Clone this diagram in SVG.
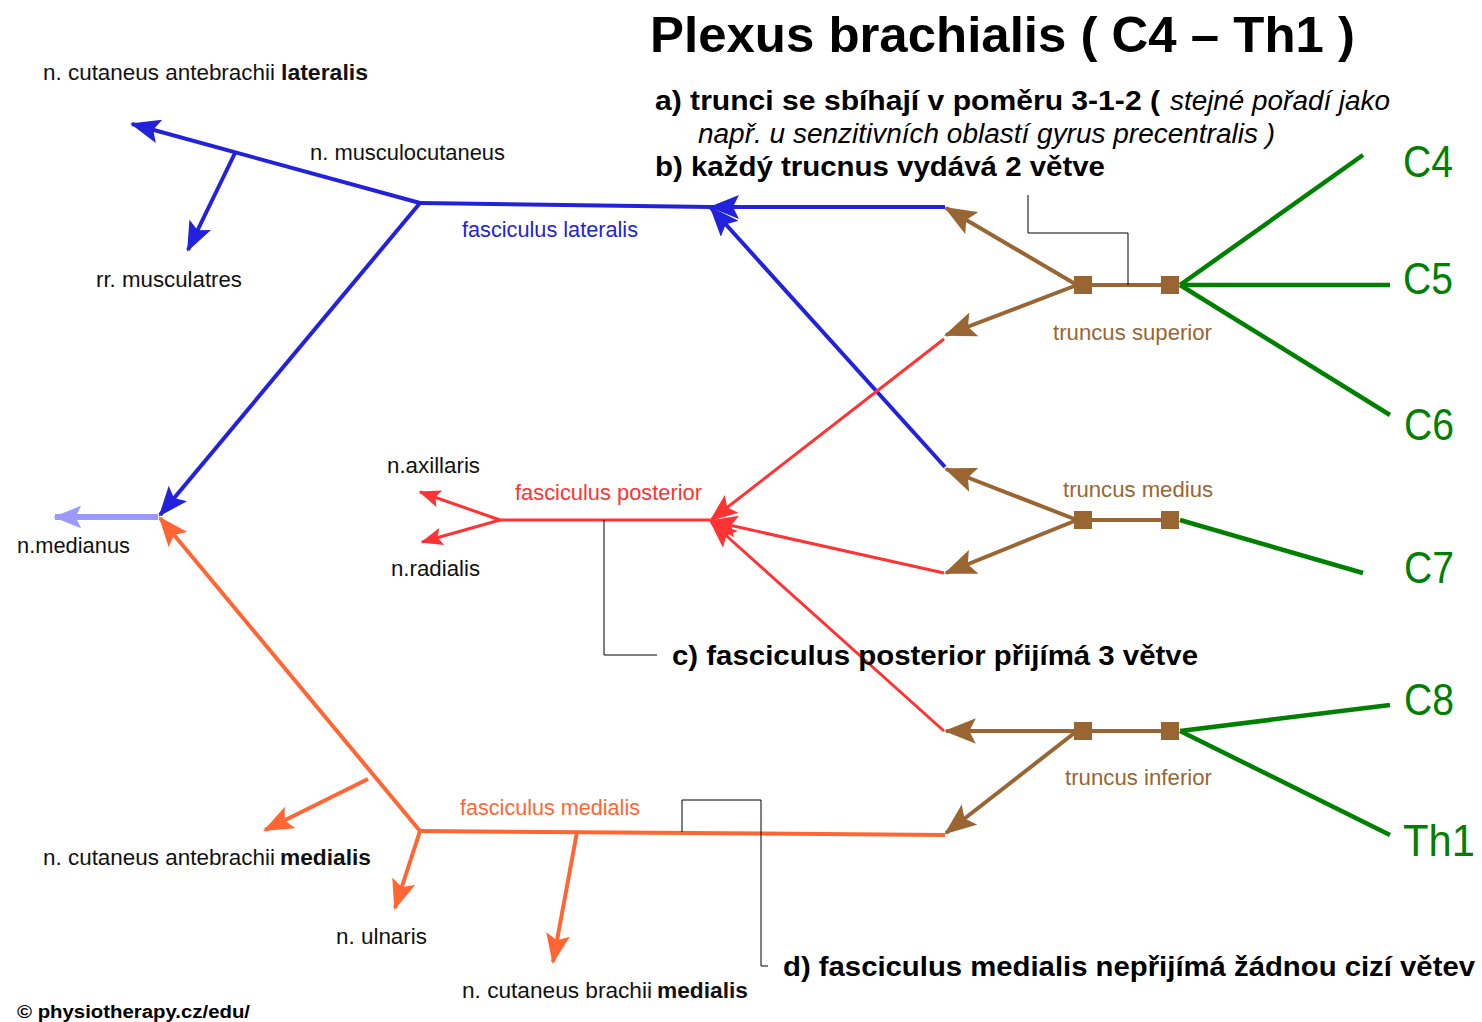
<svg xmlns="http://www.w3.org/2000/svg" width="1482" height="1022" viewBox="0 0 1482 1022">
<style>
text{font-family:"Liberation Sans",Arial,sans-serif;}
.lbl{font-size:22px;fill:#111;}
.b{font-weight:bold;}
.note{font-size:27px;font-weight:bold;fill:#000;}
.it{font-style:italic;font-weight:normal;}
.cn{font-size:44px;fill:#008000;}
.blue{stroke:#2222dd;fill:none;stroke-width:4;}
.red{stroke:#ff3333;fill:none;stroke-width:3;}
.orange{stroke:#ff6633;fill:none;stroke-width:4;}
.brown{stroke:#996633;fill:none;stroke-width:4;}
.green{stroke:#008000;fill:none;stroke-width:4.5;}
.lead{stroke:#000;fill:none;stroke-width:1;}
.sq{fill:#996633;}
</style>
<defs>
<marker id="ab" viewBox="0 0 30 24" refX="28" refY="12" markerWidth="30" markerHeight="24" markerUnits="userSpaceOnUse" orient="auto"><path d="M0,0 L30,12 L0,24 L6,12 Z" fill="#2222dd"/></marker>
<marker id="alb" viewBox="0 0 30 24" refX="28" refY="12" markerWidth="28" markerHeight="24" markerUnits="userSpaceOnUse" orient="auto"><path d="M0,0 L30,12 L0,24 L6,12 Z" fill="#9999ff"/></marker>
<marker id="ar" viewBox="0 0 30 24" refX="28" refY="12" markerWidth="28" markerHeight="24" markerUnits="userSpaceOnUse" orient="auto"><path d="M0,0 L30,12 L0,24 L6,12 Z" fill="#ff3333"/></marker>
<marker id="ars" viewBox="0 0 30 24" refX="28" refY="12" markerWidth="22" markerHeight="18" markerUnits="userSpaceOnUse" orient="auto"><path d="M0,0 L30,12 L0,24 L6,12 Z" fill="#ff3333"/></marker>
<marker id="ao" viewBox="0 0 30 24" refX="28" refY="12" markerWidth="30" markerHeight="24" markerUnits="userSpaceOnUse" orient="auto"><path d="M0,0 L30,12 L0,24 L6,12 Z" fill="#ff6633"/></marker>
<marker id="abr" viewBox="0 0 30 24" refX="28" refY="12" markerWidth="32" markerHeight="26" markerUnits="userSpaceOnUse" orient="auto"><path d="M0,0 L30,12 L0,24 L6,12 Z" fill="#996633"/></marker>
</defs>
<rect width="1482" height="1022" fill="#fff"/>

<g id="connectors">
  <line class="green" x1="1180" y1="285" x2="1363" y2="155"/>
  <line class="green" x1="1180" y1="285" x2="1390" y2="285"/>
  <line class="green" x1="1180" y1="285" x2="1390" y2="415"/>
  <line class="green" x1="1180" y1="520" x2="1363" y2="573"/>
  <line class="green" x1="1180" y1="731" x2="1390" y2="705"/>
  <line class="green" x1="1180" y1="731" x2="1390" y2="835"/>
  <line class="brown" x1="1083" y1="285" x2="1170" y2="285"/>
  <line class="brown" x1="1083" y1="520" x2="1170" y2="520"/>
  <line class="brown" x1="1083" y1="731" x2="1170" y2="731"/>
  <line class="brown" x1="1077" y1="285" x2="946" y2="208" marker-end="url(#abr)"/>
  <line class="brown" x1="1077" y1="285" x2="946" y2="335" marker-end="url(#abr)"/>
  <line class="brown" x1="1077" y1="520" x2="946" y2="469" marker-end="url(#abr)"/>
  <line class="brown" x1="1077" y1="520" x2="946" y2="573" marker-end="url(#abr)"/>
  <line class="brown" x1="1077" y1="731" x2="946" y2="731" marker-end="url(#abr)"/>
  <line class="brown" x1="1077" y1="731" x2="946" y2="833" marker-end="url(#abr)"/>
  <line class="blue" x1="945" y1="207" x2="711" y2="207" marker-end="url(#ab)"/>
  <line class="blue" x1="945" y1="467" x2="711" y2="208" marker-end="url(#ab)"/>
  <line class="blue" x1="420" y1="203" x2="711" y2="207"/>
  <line class="blue" x1="420" y1="203" x2="132" y2="124" marker-end="url(#ab)"/>
  <line class="blue" x1="235" y1="153" x2="188" y2="250" marker-end="url(#ab)"/>
  <line class="blue" x1="420" y1="203" x2="160" y2="515" marker-end="url(#ab)"/>
  <line stroke="#9999ff" stroke-width="6" x1="158" y1="517" x2="55" y2="517" marker-end="url(#alb)"/>
  <line class="red" stroke-width="5" x1="710" y1="520" x2="500" y2="520"/>
  <line class="red" stroke-width="4" x1="500" y1="520" x2="420" y2="492" marker-end="url(#ars)"/>
  <line class="red" stroke-width="4" x1="500" y1="520" x2="422" y2="542" marker-end="url(#ars)"/>
  <line class="red" x1="944" y1="339" x2="711" y2="520" marker-end="url(#ar)"/>
  <line class="red" x1="944" y1="573" x2="711" y2="521" marker-end="url(#ar)"/>
  <line class="red" x1="944" y1="731" x2="711" y2="522" marker-end="url(#ar)"/>
  <line class="orange" x1="945" y1="835" x2="420" y2="831"/>
  <line class="orange" x1="420" y1="831" x2="160" y2="518" marker-end="url(#ao)"/>
  <line class="orange" x1="368" y1="779" x2="265" y2="830" marker-end="url(#ao)"/>
  <line class="orange" x1="420" y1="831" x2="395" y2="908" marker-end="url(#ao)"/>
  <line class="orange" x1="577" y1="832" x2="553" y2="962" marker-end="url(#ao)"/>
  <polyline class="lead" points="1028,195 1028,233 1128,233 1128,285"/>
  <polyline class="lead" points="604,520 604,655 657,655"/>
  <polyline class="lead" points="682,832 682,800 761,800 761,966 768,966"/>
</g>

<g id="trunk-squares">
  <rect class="sq" x="1074" y="276" width="18" height="18"/>
  <rect class="sq" x="1161" y="276" width="18" height="18"/>
  <rect class="sq" x="1074" y="511" width="18" height="18"/>
  <rect class="sq" x="1161" y="511" width="18" height="18"/>
  <rect class="sq" x="1074" y="722" width="18" height="18"/>
  <rect class="sq" x="1161" y="722" width="18" height="18"/>
</g>

<g id="title"><text x="650" y="52" font-size="50" font-weight="bold" textLength="705" lengthAdjust="spacingAndGlyphs">Plexus brachialis ( C4 – Th1 )</text></g>

<g id="note-a">
  <text class="note" x="655" y="110" textLength="505" lengthAdjust="spacingAndGlyphs">a) trunci se sbíhají v poměru 3-1-2 (</text>
  <text class="note it" x="1170" y="110" textLength="220" lengthAdjust="spacingAndGlyphs">stejné pořadí jako</text>
  <text class="note it" x="698" y="143" textLength="577" lengthAdjust="spacingAndGlyphs">např. u senzitivních oblastí gyrus precentralis )</text>
</g>
<g id="note-b"><text class="note" x="655" y="176" textLength="450" lengthAdjust="spacingAndGlyphs">b) každý trucnus vydává 2 větve</text></g>
<g id="note-c"><text class="note" x="672" y="665" textLength="526" lengthAdjust="spacingAndGlyphs">c) fasciculus posterior přijímá 3 větve</text></g>
<g id="note-d"><text class="note" x="783" y="976" textLength="692" lengthAdjust="spacingAndGlyphs">d) fasciculus medialis nepřijímá žádnou cizí větev</text></g>

<g id="C4"><text class="cn" x="1403" y="177" textLength="50" lengthAdjust="spacingAndGlyphs">C4</text></g>
<g id="C5"><text class="cn" x="1403" y="294" textLength="50" lengthAdjust="spacingAndGlyphs">C5</text></g>
<g id="C6"><text class="cn" x="1404" y="440" textLength="50" lengthAdjust="spacingAndGlyphs">C6</text></g>
<g id="C7"><text class="cn" x="1404" y="583" textLength="50" lengthAdjust="spacingAndGlyphs">C7</text></g>
<g id="C8"><text class="cn" x="1404" y="715" textLength="50" lengthAdjust="spacingAndGlyphs">C8</text></g>
<g id="Th1"><text class="cn" x="1403" y="856" textLength="72" lengthAdjust="spacingAndGlyphs">Th1</text></g>

<g id="truncus-superior"><text class="lbl" style="fill:#996633" x="1053" y="340" textLength="159" lengthAdjust="spacingAndGlyphs">truncus superior</text></g>
<g id="truncus-medius"><text class="lbl" style="fill:#996633" x="1063" y="497" textLength="150" lengthAdjust="spacingAndGlyphs">truncus medius</text></g>
<g id="truncus-inferior"><text class="lbl" style="fill:#996633" x="1065" y="785" textLength="147" lengthAdjust="spacingAndGlyphs">truncus inferior</text></g>

<g id="fasciculus-lateralis"><text class="lbl" style="fill:#2222dd" x="462" y="237" textLength="176" lengthAdjust="spacingAndGlyphs">fasciculus lateralis</text></g>
<g id="fasciculus-posterior"><text class="lbl" style="fill:#ff3333" x="515" y="500" textLength="187" lengthAdjust="spacingAndGlyphs">fasciculus posterior</text></g>
<g id="fasciculus-medialis"><text class="lbl" style="fill:#ff6633" x="460" y="815" textLength="180" lengthAdjust="spacingAndGlyphs">fasciculus medialis</text></g>

<g id="n-cutaneus-antebrachii-lateralis">
  <text class="lbl" x="43" y="80" textLength="232" lengthAdjust="spacingAndGlyphs">n. cutaneus antebrachii</text>
  <text class="lbl b" x="281" y="80" textLength="87" lengthAdjust="spacingAndGlyphs">lateralis</text>
</g>
<g id="n-musculocutaneus"><text class="lbl" x="310" y="160" textLength="195" lengthAdjust="spacingAndGlyphs">n. musculocutaneus</text></g>
<g id="rr-musculatres"><text class="lbl" x="96" y="287" textLength="146" lengthAdjust="spacingAndGlyphs">rr. musculatres</text></g>
<g id="n-axillaris"><text class="lbl" x="387" y="473" textLength="93" lengthAdjust="spacingAndGlyphs">n.axillaris</text></g>
<g id="n-radialis"><text class="lbl" x="391" y="576" textLength="89" lengthAdjust="spacingAndGlyphs">n.radialis</text></g>
<g id="n-medianus"><text class="lbl" x="17" y="553" textLength="113" lengthAdjust="spacingAndGlyphs">n.medianus</text></g>
<g id="n-cutaneus-antebrachii-medialis">
  <text class="lbl" x="43" y="865" textLength="232" lengthAdjust="spacingAndGlyphs">n. cutaneus antebrachii</text>
  <text class="lbl b" x="280" y="865" textLength="91" lengthAdjust="spacingAndGlyphs">medialis</text>
</g>
<g id="n-ulnaris"><text class="lbl" x="336" y="944" textLength="91" lengthAdjust="spacingAndGlyphs">n. ulnaris</text></g>
<g id="n-cutaneus-brachii-medialis">
  <text class="lbl" x="462" y="998" textLength="190" lengthAdjust="spacingAndGlyphs">n. cutaneus brachii</text>
  <text class="lbl b" x="657" y="998" textLength="91" lengthAdjust="spacingAndGlyphs">medialis</text>
</g>
<g id="copyright"><text x="17" y="1018" font-size="18" font-weight="bold" textLength="233" lengthAdjust="spacingAndGlyphs">© physiotherapy.cz/edu/</text></g>
</svg>
